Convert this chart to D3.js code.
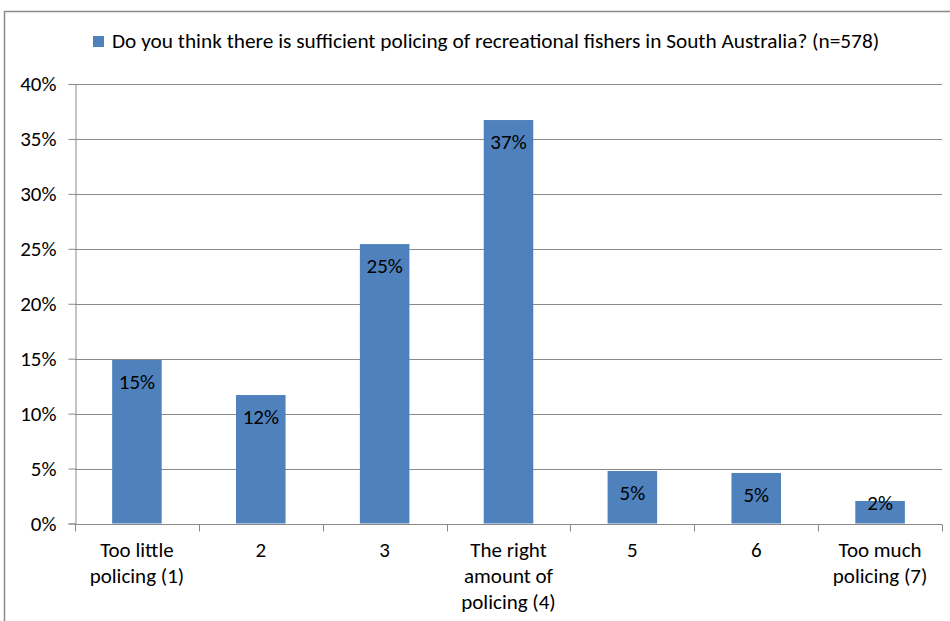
<!DOCTYPE html>
<html>
<head>
<meta charset="utf-8">
<script src="https://cdn.jsdelivr.net/npm/d3@7"></script>
<style>
  html, body { margin: 0; padding: 0; background: #fff; }
  svg { display: block; }
  svg text { font-family: "Carlito", "Calibri", "Open Sans", sans-serif; }
</style>
</head>
<body>
<svg id="chart" width="950" height="621"></svg>
<script>
// Survey responses: share of respondents per rating on a 1–7 scale
const categories = [
  ["Too little", "policing (1)"],
  ["2"],
  ["3"],
  ["The right", "amount of", "policing (4)"],
  ["5"],
  ["6"],
  ["Too much", "policing (7)"]
];
const values = [0.1488, 0.1169, 0.2543, 0.3672, 0.0478, 0.0460, 0.0205];
const yTicks = [0, 0.05, 0.10, 0.15, 0.20, 0.25, 0.30, 0.35, 0.40];
const seriesName = "Do you think there is sufficient policing of recreational fishers in South Australia? (n=578)";

const W = 950, H = 621;
const margin = { top: 84, right: 8, bottom: 97.5, left: 75 };
const barColor = "#4F81BD";
const lineColor = "#898989";
const fontSize = 21;
const fontFamily = '"Carlito", "Calibri", "Open Sans", sans-serif';

const svg = d3.select("#chart");

// Outer chart frame (runs off the right and bottom edges)
svg.append("rect")
  .attr("x", 4.5).attr("y", 11.5)
  .attr("width", W + 20).attr("height", H + 20)
  .attr("fill", "none").attr("stroke", lineColor).attr("stroke-width", 1.5);

const x = d3.scaleBand()
  .domain(d3.range(values.length))
  .range([margin.left, W - margin.right])
  .paddingInner(0.6).paddingOuter(0.3);

const y = d3.scaleLinear()
  .domain([0, 0.4])
  .range([H - margin.bottom, margin.top]);

// Horizontal gridlines
svg.append("g")
  .selectAll("line")
  .data(yTicks.filter(t => t > 0))
  .join("line")
  .attr("x1", margin.left).attr("x2", W - margin.right)
  .attr("y1", d => Math.round(y(d)) + 0.5).attr("y2", d => Math.round(y(d)) + 0.5)
  .attr("stroke", lineColor).attr("stroke-width", 1);

// Y axis
const yAxis = svg.append("g")
  .attr("transform", `translate(${margin.left + 0.5},0)`)
  .call(d3.axisLeft(y).tickValues(yTicks).tickFormat(d3.format(".0%")).tickSizeOuter(0).tickSize(7).tickPadding(12));
yAxis.attr("font-family", fontFamily).attr("font-size", fontSize);
yAxis.select(".domain").attr("stroke", lineColor);
yAxis.selectAll(".tick line").attr("stroke", lineColor);
yAxis.selectAll(".tick text").attr("fill", "#000");

// Bars
svg.append("g")
  .selectAll("rect")
  .data(values)
  .join("rect")
  .attr("x", (d, i) => x(i))
  .attr("width", x.bandwidth())
  .attr("y", d => y(d))
  .attr("height", d => y(0) - y(d))
  .attr("fill", barColor);

// X axis line with ticks at category boundaries
const y0 = Math.round(y(0)) + 0.5;
const xg = svg.append("g");
xg.append("line")
  .attr("x1", margin.left).attr("x2", W - margin.right)
  .attr("y1", y0).attr("y2", y0)
  .attr("stroke", lineColor);
const boundary = i => Math.round(x(0) - x.paddingOuter() * x.step() + i * x.step() - x.paddingInner() * x.step() / 2 + x.paddingInner() * x.step() / 2) + 0.5;
xg.selectAll("line.tick")
  .data(d3.range(values.length + 1))
  .join("line")
  .attr("class", "tick")
  .attr("x1", i => Math.round(margin.left + i * (W - margin.right - margin.left) / values.length) + 0.5)
  .attr("x2", i => Math.round(margin.left + i * (W - margin.right - margin.left) / values.length) + 0.5)
  .attr("y1", y0).attr("y2", y0 + 7)
  .attr("stroke", lineColor);

// Category labels (multi-line)
const cat = svg.append("g")
  .selectAll("text")
  .data(categories)
  .join("text")
  .attr("text-anchor", "middle")
  .attr("font-size", fontSize)
  .attr("fill", "#000");
cat.each(function (lines, i) {
  d3.select(this).selectAll("tspan")
    .data(lines)
    .join("tspan")
    .attr("x", x(i) + x.bandwidth() / 2)
    .attr("y", (d, j) => y(0) + 33 + j * 26)
    .text(d => d);
});

// Value labels inside bar tops
const fmt = d3.format(".0%");
svg.append("g")
  .selectAll("text")
  .data(values)
  .join("text")
  .attr("x", (d, i) => x(i) + x.bandwidth() / 2)
  .attr("y", d => Math.min(y(d) + 29, y(0) - 14))
  .attr("text-anchor", "middle")
  .attr("font-size", fontSize)
  .attr("fill", "#000")
  .text(d => fmt(d));

// Legend
const legend = svg.append("g");
legend.append("rect")
  .attr("x", 93).attr("y", 36)
  .attr("width", 11).attr("height", 11)
  .attr("fill", barColor);
const legendText = legend.append("text")
  .attr("x", 112).attr("y", 48)
  .attr("font-size", fontSize)
  .attr("fill", "#000")
  .text(seriesName);
// Fit the legend line to its available width
const targetWidth = 768;
const natural = legendText.node().getComputedTextLength();
legendText.attr("font-size", fontSize * targetWidth / natural);
</script>
</body>
</html>
